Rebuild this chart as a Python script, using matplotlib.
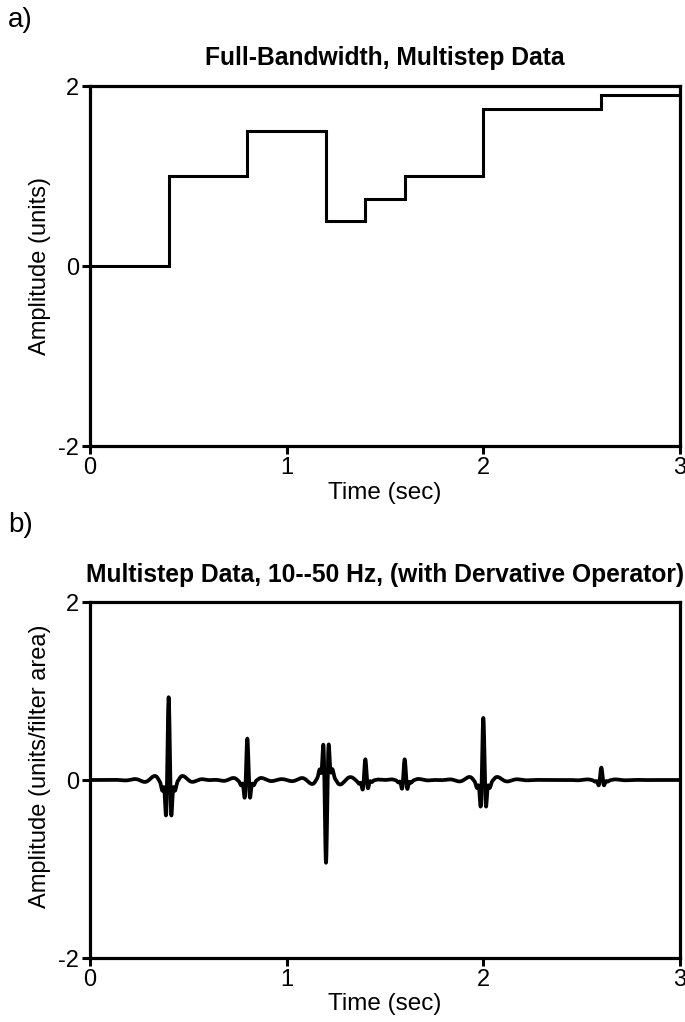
import numpy as np
import matplotlib
matplotlib.use("Agg")
import matplotlib.pyplot as plt

plt.rcParams['font.family'] = ['Liberation Sans', 'DejaVu Sans']
plt.rcParams['axes.unicode_minus'] = False

# ---- data ----
step_times = [0.4, 0.8, 1.2, 1.4, 1.6, 2.0, 2.6]          # seconds
step_levels = [0.0, 1.0, 1.5, 0.5, 0.75, 1.0, 1.75, 1.9]  # units
t_end = 3.0
band_low_hz = 10.0
band_high_hz = 50.0
peak_gain = 0.93          # filtered peak per unit step (units/filter area)

x_ticks = [0, 1, 2, 3]
y_ticks = [-2, 0, 2]
title_a = "Full-Bandwidth, Multistep Data"
title_b = "Multistep Data, 10--50 Hz, (with Dervative Operator)"

# ---- build full-band signal and its band-limited derivative ----
dt = 0.001
t = np.arange(0, t_end + dt / 2, dt)
x = np.full_like(t, step_levels[0])
for tt, lv in zip(step_times, step_levels[1:]):
    x[t >= tt - 1e-9] = lv

d = np.diff(x, prepend=x[0])
tk = np.arange(-0.35, 0.35 + dt / 2, dt)
w_short = np.exp(-(tk / 0.028) ** 2)     # taper on the high-cut side
w_long = np.hanning(len(tk))             # longer taper on the low-cut side
h = (2 * band_high_hz * np.sinc(2 * band_high_hz * tk) * w_short
     - 2 * band_low_hz * np.sinc(2 * band_low_hz * tk) * w_long)
h /= h.max()
y = np.convolve(d, h, mode='same') * peak_gain

# ---- figure ----
W, H = 685, 1022
fig = plt.figure(figsize=(W / 100, H / 100), dpi=100)
ax1 = fig.add_axes([90 / W, 1 - 446 / H, 590 / W, 360 / H])
ax2 = fig.add_axes([90 / W, 1 - 958 / H, 590 / W, 356 / H])

edges = [0.0] + step_times + [t_end]
ax1.stairs(step_levels, edges, color='black', linewidth=2.2, baseline=None)
ax2.plot(t, y, color='black', linewidth=2.7, solid_joinstyle='round')

for ax, yl, ylc in ((ax1, "Amplitude (units)", 0.5),
                    (ax2, "Amplitude (units/filter area)", 0.54)):
    ax.set_xlim(0, 3)
    ax.set_ylim(-2, 2)
    ax.set_xticks(x_ticks)
    ax.set_yticks(y_ticks)
    ax.tick_params(direction='out', length=6, width=2.2, labelsize=17, pad=2)
    for s in ax.spines.values():
        s.set_linewidth(2.3)
    ax.set_xlabel("Time (sec)", fontsize=17.5, va='center')
    ax.xaxis.set_label_coords(0.5, -47 / 360)
    ax.set_ylabel(yl, fontsize=17, va='center')
    ax.yaxis.set_label_coords(-50 / 590, ylc)

cx = (90 + 295) / W
fig.text(cx, 1 - 58 / H, title_a, ha='center', va='center', fontsize=17.7, fontweight='bold')
fig.text(cx, 1 - 575 / H, title_b, ha='center', va='center', fontsize=17.7, fontweight='bold')
fig.text(8 / W, 1 - 20 / H, "a)", ha='left', va='center', fontsize=20)
fig.text(8 / W, 1 - 525 / H, "b)", ha='left', va='center', fontsize=20)

fig.savefig("out.png", dpi=100)
